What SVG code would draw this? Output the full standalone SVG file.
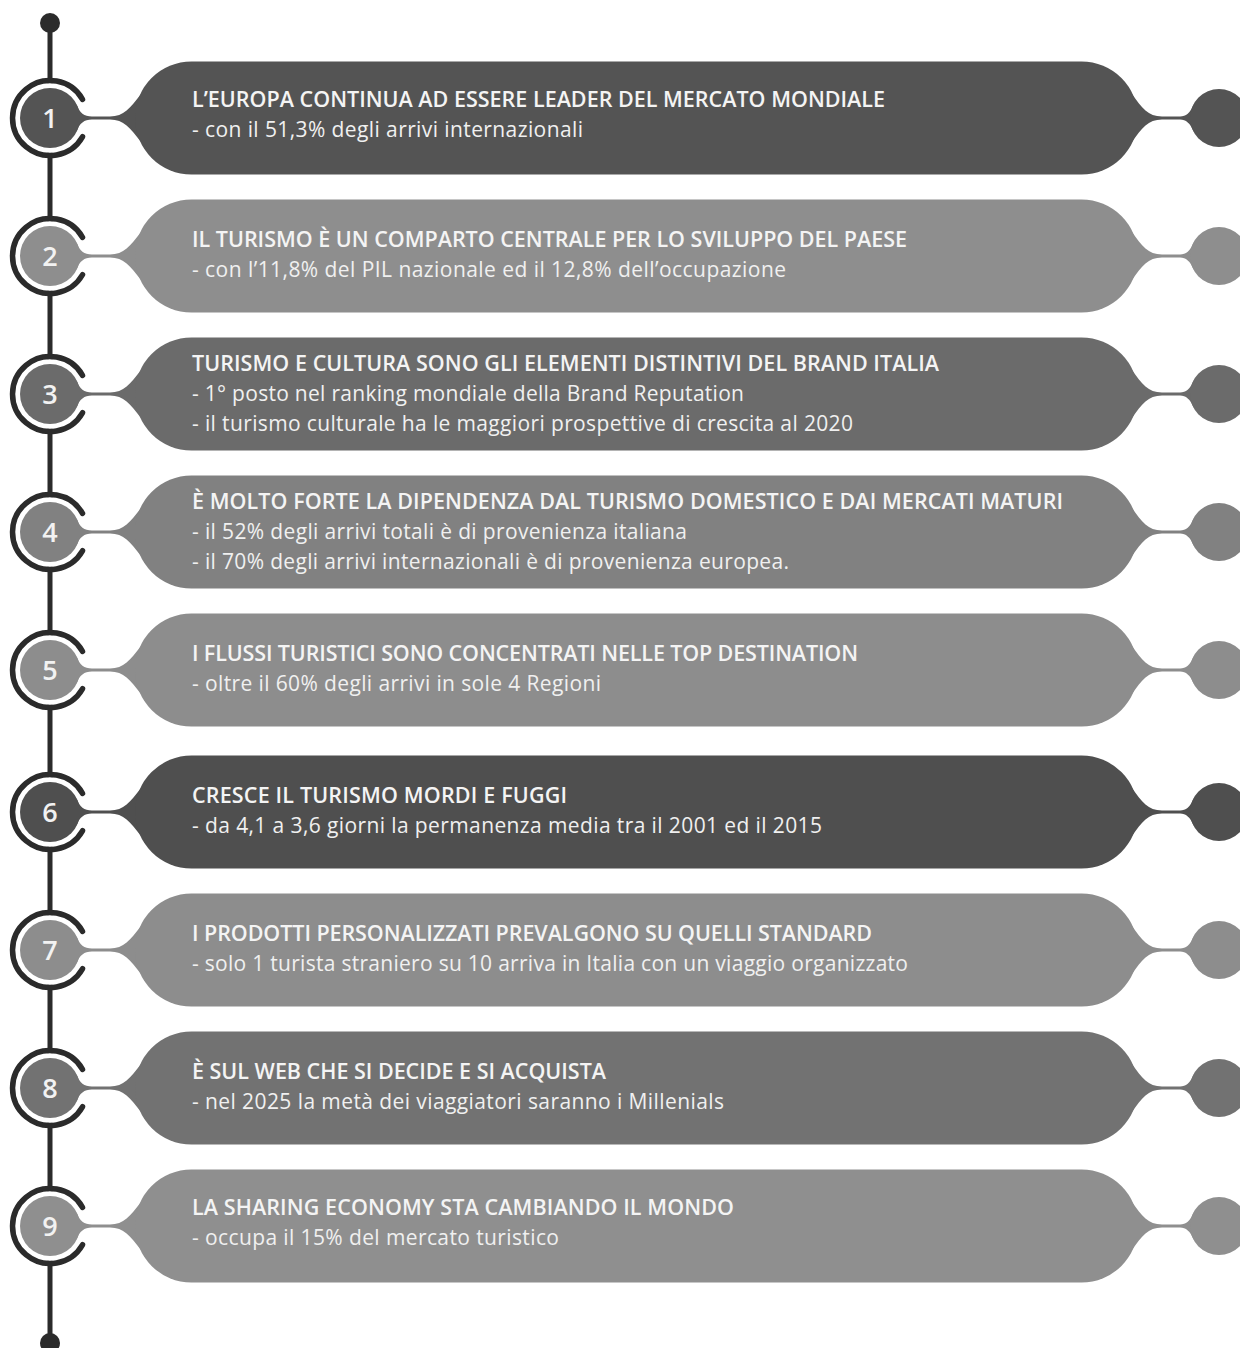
<svg xmlns="http://www.w3.org/2000/svg" xmlns:xlink="http://www.w3.org/1999/xlink" width="1240" height="1348" viewBox="0 0 1240 1348">
<style>
.spine{stroke:#2b2b2b;stroke-width:5;fill:none}
.dot{fill:#2b2b2b}
.ring{stroke:#2b2b2b;stroke-width:5.5;fill:none;stroke-linecap:round}
.gap{fill:#ffffff}
.num{font-family:"Open Sans","Liberation Sans",sans-serif;font-size:27px;font-weight:600;fill:#f2f2f2;text-anchor:middle}
.ttl{font-family:"Open Sans","Liberation Sans",sans-serif;font-size:21.5px;font-weight:600;fill:#f4f4f4}
.sub{font-family:"Open Sans","Liberation Sans",sans-serif;font-size:21px;font-weight:400;fill:#f0f0f0}
</style>
<defs>
<g id="shape">
<circle cx="50" cy="0" r="30"/>
<path d="M76,-14 C80,-5 84,-1.5 92,-1.5 L110,-1.5 C124,-1.5 130,-10 141,-24 L150,-24 L150,24 L141,24 C130,10 124,1.5 110,1.5 L92,1.5 C84,1.5 80,5 76,14 Z"/>
<rect x="135" y="-56.5" width="1003" height="113" rx="56.5" ry="56.5"/>
<path d="M1132,-24 C1142,-10 1148,-1.5 1162,-1.5 L1180,-1.5 C1186,-1.5 1190,-5 1194,-14 L1200,-14 L1200,14 L1194,14 C1190,5 1186,1.5 1180,1.5 L1162,1.5 C1148,1.5 1142,10 1132,24 Z"/>
<circle cx="1219" cy="0" r="29"/>
</g>
<g id="ringset">
<circle class="gap" cx="50" cy="0" r="35"/>
<path class="ring" d="M82.5,-18.75 A37.5,37.5 0 1 0 82.5,18.75"/>
</g>
</defs>

<g id="connectors">
<line class="spine" x1="50" y1="23" x2="50" y2="1343"/>
<circle class="dot" cx="50" cy="23" r="10"/>
<circle class="dot" cx="50" cy="1343" r="10"/>
</g>

<g id="node1" transform="translate(0,118)">
<use xlink:href="#ringset"/>
<use xlink:href="#shape" fill="#545454"/>
<text class="num" x="50" y="10">1</text>
<text class="ttl" x="192" y="-11" textLength="693">L’EUROPA CONTINUA AD ESSERE LEADER DEL MERCATO MONDIALE</text>
<text class="sub" x="192" y="19" textLength="391">- con il 51,3% degli arrivi internazionali</text>
</g>

<g id="node2" transform="translate(0,256)">
<use xlink:href="#ringset"/>
<use xlink:href="#shape" fill="#8e8e8e"/>
<text class="num" x="50" y="10">2</text>
<text class="ttl" x="192" y="-9" textLength="715">IL TURISMO È UN COMPARTO CENTRALE PER LO SVILUPPO DEL PAESE</text>
<text class="sub" x="192" y="21" textLength="594">- con l’11,8% del PIL nazionale ed il 12,8% dell’occupazione</text>
</g>

<g id="node3" transform="translate(0,394)">
<use xlink:href="#ringset"/>
<use xlink:href="#shape" fill="#6b6b6b"/>
<text class="num" x="50" y="10">3</text>
<text class="ttl" x="192" y="-23" textLength="747">TURISMO E CULTURA SONO GLI ELEMENTI DISTINTIVI DEL BRAND ITALIA</text>
<text class="sub" x="192" y="7" textLength="552">- 1° posto nel ranking mondiale della Brand Reputation</text>
<text class="sub" x="192" y="37" textLength="661">- il turismo culturale ha le maggiori prospettive di crescita al 2020</text>
</g>

<g id="node4" transform="translate(0,532)">
<use xlink:href="#ringset"/>
<use xlink:href="#shape" fill="#818181"/>
<text class="num" x="50" y="10">4</text>
<text class="ttl" x="192" y="-23" textLength="871">È MOLTO FORTE LA DIPENDENZA DAL TURISMO DOMESTICO E DAI MERCATI MATURI</text>
<text class="sub" x="192" y="7" textLength="495">- il 52% degli arrivi totali è di provenienza italiana</text>
<text class="sub" x="192" y="37" textLength="597">- il 70% degli arrivi internazionali è di provenienza europea.</text>
</g>

<g id="node5" transform="translate(0,670)">
<use xlink:href="#ringset"/>
<use xlink:href="#shape" fill="#8d8d8d"/>
<text class="num" x="50" y="10">5</text>
<text class="ttl" x="192" y="-9" textLength="666">I FLUSSI TURISTICI SONO CONCENTRATI NELLE TOP DESTINATION</text>
<text class="sub" x="192" y="21" textLength="409">- oltre il 60% degli arrivi in sole 4 Regioni</text>
</g>

<g id="node6" transform="translate(0,812)">
<use xlink:href="#ringset"/>
<use xlink:href="#shape" fill="#4f4f4f"/>
<text class="num" x="50" y="10">6</text>
<text class="ttl" x="192" y="-9" textLength="375">CRESCE IL TURISMO MORDI E FUGGI</text>
<text class="sub" x="192" y="21" textLength="630">- da 4,1 a 3,6 giorni la permanenza media tra il 2001 ed il 2015</text>
</g>

<g id="node7" transform="translate(0,950)">
<use xlink:href="#ringset"/>
<use xlink:href="#shape" fill="#8d8d8d"/>
<text class="num" x="50" y="10">7</text>
<text class="ttl" x="192" y="-9" textLength="680">I PRODOTTI PERSONALIZZATI PREVALGONO SU QUELLI STANDARD</text>
<text class="sub" x="192" y="21" textLength="716">- solo 1 turista straniero su 10 arriva in Italia con un viaggio organizzato</text>
</g>

<g id="node8" transform="translate(0,1088)">
<use xlink:href="#ringset"/>
<use xlink:href="#shape" fill="#727272"/>
<text class="num" x="50" y="10">8</text>
<text class="ttl" x="192" y="-9" textLength="414">È SUL WEB CHE SI DECIDE E SI ACQUISTA</text>
<text class="sub" x="192" y="21" textLength="532">- nel 2025 la metà dei viaggiatori saranno i Millenials</text>
</g>

<g id="node9" transform="translate(0,1226)">
<use xlink:href="#ringset"/>
<use xlink:href="#shape" fill="#8f8f8f"/>
<text class="num" x="50" y="10">9</text>
<text class="ttl" x="192" y="-11" textLength="542">LA SHARING ECONOMY STA CAMBIANDO IL MONDO</text>
<text class="sub" x="192" y="19" textLength="367">- occupa il 15% del mercato turistico</text>
</g>
</svg>
